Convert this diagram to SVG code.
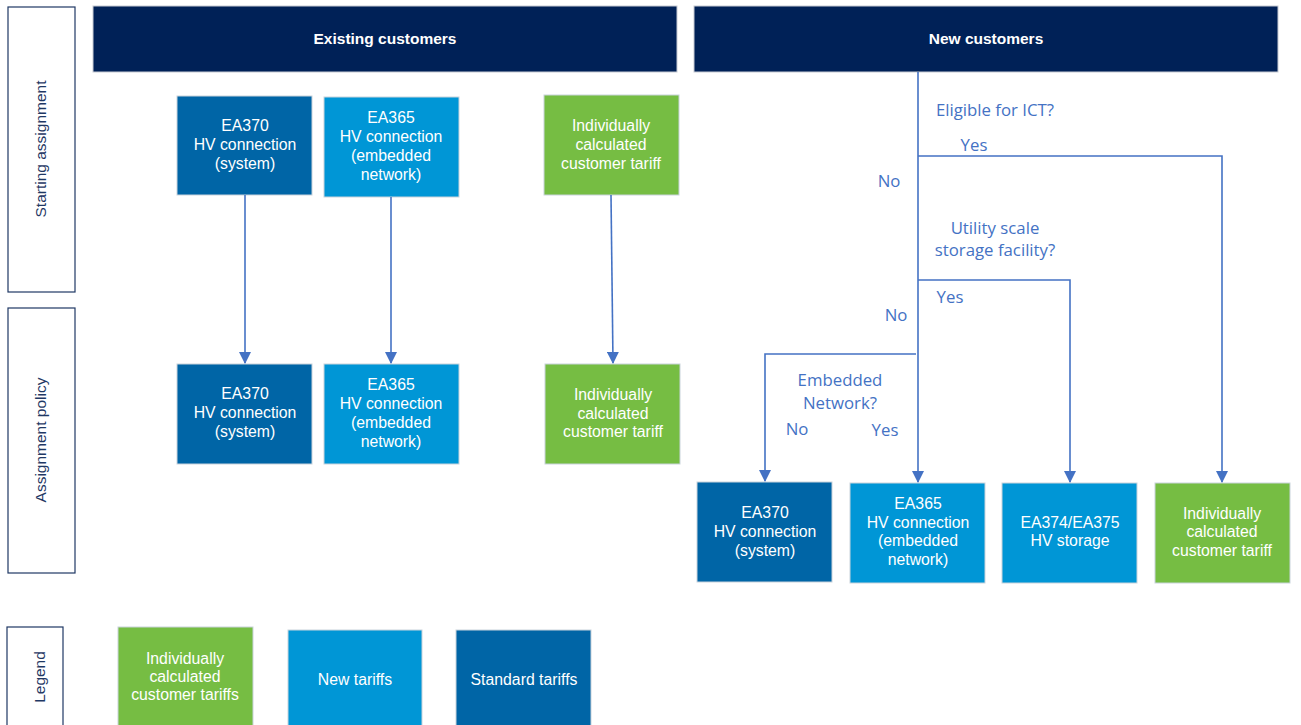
<svg xmlns="http://www.w3.org/2000/svg" width="1301" height="725" viewBox="0 0 1301 725">
<style>
.lbl{fill:#fff;stroke:#1F3864;stroke-width:1.2}
.lbt{font-family:"Liberation Sans",Arial,sans-serif;font-size:15.5px;fill:#1F3864;text-anchor:middle}
.hdr{fill:#002157;stroke:#c8ccd4;stroke-width:1}
.hdt{font-family:"Liberation Sans",Arial,sans-serif;font-size:15.5px;font-weight:bold;fill:#fff;text-anchor:middle}
.std{fill:#0065A6;stroke:#c9d3dc;stroke-width:1}
.new{fill:#0096D6;stroke:#c9d3dc;stroke-width:1}
.ict{fill:#76BD43;stroke:#c9d3dc;stroke-width:1}
.bt{font-family:"Liberation Sans",Arial,sans-serif;font-size:15.8px;fill:#fff;text-anchor:middle}
.con{fill:none;stroke:#4472C4;stroke-width:1.6}
.ft{font-family:"Open Sans","Noto Sans",sans-serif;font-size:16.8px;fill:#4472C4;text-anchor:middle}
</style>
<defs>
<marker id="arr" markerWidth="12" markerHeight="12" refX="11" refY="6" orient="auto" markerUnits="userSpaceOnUse">
<path d="M0,0 L12,6 L0,12 Z" fill="#4472C4"/>
</marker>
</defs>

<g id="row-label-starting">
<rect class="lbl" x="8" y="7" width="67" height="285"/>
<text class="lbt" transform="translate(46 149) rotate(-90)">Starting assignment</text>
</g>
<g id="row-label-policy">
<rect class="lbl" x="8" y="308" width="67" height="265"/>
<text class="lbt" transform="translate(46 440) rotate(-90)">Assignment policy</text>
</g>
<g id="row-label-legend">
<rect class="lbl" x="7" y="627" width="56" height="110"/>
<text class="lbt" transform="translate(45 677) rotate(-90)">Legend</text>
</g>

<g id="header-existing">
<rect class="hdr" x="93" y="6" width="584" height="66"/>
<text class="hdt" x="385" y="44">Existing customers</text>
</g>
<g id="header-new">
<rect class="hdr" x="694" y="6" width="584" height="66"/>
<text class="hdt" x="986" y="44">New customers</text>
</g>

<g id="ex-start-ea370">
<rect class="std" x="177" y="96" width="135" height="99"/>
<text class="bt" x="245" y="131">EA370</text>
<text class="bt" x="245" y="150">HV connection</text>
<text class="bt" x="245" y="169">(system)</text>
</g>
<g id="ex-start-ea365">
<rect class="new" x="324" y="97" width="135" height="100"/>
<text class="bt" x="391" y="123">EA365</text>
<text class="bt" x="391" y="142">HV connection</text>
<text class="bt" x="391" y="161">(embedded</text>
<text class="bt" x="391" y="180">network)</text>
</g>
<g id="ex-start-ict">
<rect class="ict" x="544" y="95" width="135" height="100"/>
<text class="bt" x="611" y="131">Individually</text>
<text class="bt" x="611" y="150">calculated</text>
<text class="bt" x="611" y="169">customer tariff</text>
</g>

<g id="ex-pol-ea370">
<rect class="std" x="177" y="364" width="135" height="100"/>
<text class="bt" x="245" y="399">EA370</text>
<text class="bt" x="245" y="418">HV connection</text>
<text class="bt" x="245" y="437">(system)</text>
</g>
<g id="ex-pol-ea365">
<rect class="new" x="324" y="364" width="135" height="100"/>
<text class="bt" x="391" y="390">EA365</text>
<text class="bt" x="391" y="409">HV connection</text>
<text class="bt" x="391" y="428">(embedded</text>
<text class="bt" x="391" y="447">network)</text>
</g>
<g id="ex-pol-ict">
<rect class="ict" x="545" y="364" width="135" height="100"/>
<text class="bt" x="613" y="400">Individually</text>
<text class="bt" x="613" y="419">calculated</text>
<text class="bt" x="613" y="437">customer tariff</text>
</g>

<g id="new-ea370">
<rect class="std" x="697" y="482" width="135" height="100"/>
<text class="bt" x="765" y="518">EA370</text>
<text class="bt" x="765" y="537">HV connection</text>
<text class="bt" x="765" y="556">(system)</text>
</g>
<g id="new-ea365">
<rect class="new" x="850" y="483" width="135" height="100"/>
<text class="bt" x="918" y="509">EA365</text>
<text class="bt" x="918" y="528">HV connection</text>
<text class="bt" x="918" y="546">(embedded</text>
<text class="bt" x="918" y="565">network)</text>
</g>
<g id="new-ea374">
<rect class="new" x="1002" y="483" width="135" height="100"/>
<text class="bt" x="1070" y="528">EA374/EA375</text>
<text class="bt" x="1070" y="546">HV storage</text>
</g>
<g id="new-ict">
<rect class="ict" x="1155" y="483" width="135" height="100"/>
<text class="bt" x="1222" y="519">Individually</text>
<text class="bt" x="1222" y="537">calculated</text>
<text class="bt" x="1222" y="556">customer tariff</text>
</g>

<g id="legend-ict">
<rect class="ict" x="118" y="627" width="135" height="110"/>
<text class="bt" x="185" y="664">Individually</text>
<text class="bt" x="185" y="682">calculated</text>
<text class="bt" x="185" y="700">customer tariffs</text>
</g>
<g id="legend-new">
<rect class="new" x="288" y="630" width="134" height="110"/>
<text class="bt" x="355" y="685">New tariffs</text>
</g>
<g id="legend-std">
<rect class="std" x="456" y="630" width="135" height="110"/>
<text class="bt" x="524" y="685">Standard tariffs</text>
</g>

<g id="connectors">
<line class="con" x1="245" y1="195" x2="245" y2="363" marker-end="url(#arr)"/>
<line class="con" x1="391" y1="197" x2="391" y2="363" marker-end="url(#arr)"/>
<line class="con" x1="611" y1="195" x2="613" y2="363" marker-end="url(#arr)"/>
<line class="con" x1="918" y1="72" x2="918" y2="482" marker-end="url(#arr)"/>
<polyline class="con" points="918,156 1222,156 1222,482" marker-end="url(#arr)"/>
<polyline class="con" points="918,280 1070,280 1070,482" marker-end="url(#arr)"/>
<polyline class="con" points="916,354 765,354 765,481" marker-end="url(#arr)"/>
</g>

<g id="flow-labels">
<text class="ft" x="995" y="116">Eligible for ICT?</text>
<text class="ft" x="974" y="151">Yes</text>
<text class="ft" x="889" y="187">No</text>
<text class="ft" x="995" y="234">Utility scale</text>
<text class="ft" x="995" y="256">storage facility?</text>
<text class="ft" x="950" y="303">Yes</text>
<text class="ft" x="896" y="321">No</text>
<text class="ft" x="840" y="386">Embedded</text>
<text class="ft" x="840" y="409">Network?</text>
<text class="ft" x="797" y="435">No</text>
<text class="ft" x="885" y="436">Yes</text>
</g>
</svg>
